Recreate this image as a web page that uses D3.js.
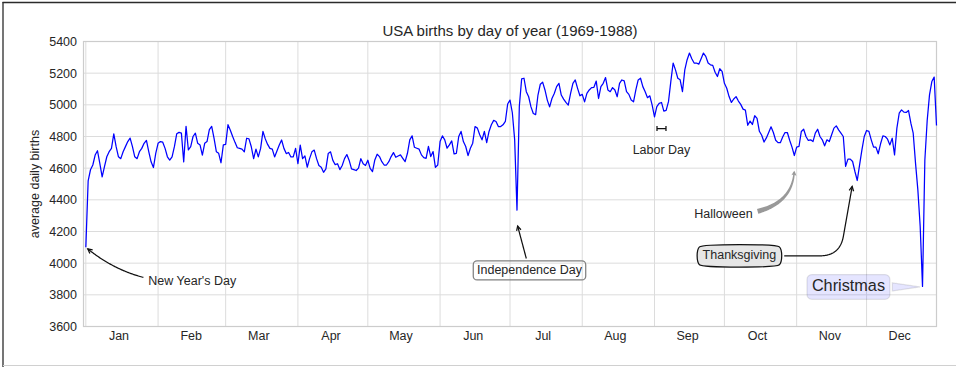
<!DOCTYPE html>
<html>
<head>
<meta charset="utf-8">
<script src="https://cdn.jsdelivr.net/npm/d3@7"></script>
<style>
  body { margin: 0; background: #fff; }
  svg { display: block; }
</style>
</head>
<body>
<svg id="chart" width="956" height="367"></svg>
<script>
// Average USA births for each calendar day (1969-1988), Jan 1 .. Dec 31 (366 days)
const births = [
  // Jan
  4100, 4520, 4590, 4620, 4683, 4710, 4630, 4545, 4610, 4672, 4704, 4725, 4817, 4736, 4672, 4660,
  4704, 4736, 4768, 4790, 4736, 4672, 4660, 4704, 4725, 4757, 4775, 4704, 4640, 4604, 4694,
  // Feb
  4757, 4768, 4764, 4725, 4672, 4651, 4672, 4736, 4817, 4826, 4821, 4640, 4864, 4715, 4736,
  4800, 4821, 4757, 4747, 4683, 4757, 4768, 4843, 4864, 4790, 4704, 4694, 4634, 4747,
  // Mar
  4750, 4875, 4840, 4800, 4763, 4729, 4725, 4720, 4703, 4789, 4785, 4735, 4660, 4720, 4671, 4725,
  4832, 4785, 4750, 4725, 4720, 4671, 4708, 4746, 4778, 4725, 4692, 4699, 4671, 4671, 4725,
  // Apr
  4628, 4746, 4660, 4677, 4606, 4660, 4703, 4714, 4660, 4617, 4606, 4574, 4596, 4692, 4703,
  4649, 4622, 4628, 4591, 4617, 4660, 4686, 4649, 4596, 4591, 4585, 4600, 4660, 4628, 4617,
  // May
  4650, 4599, 4578, 4652, 4688, 4673, 4641, 4620, 4620, 4641, 4673, 4698, 4669, 4677, 4684, 4662,
  4641, 4694, 4779, 4804, 4732, 4726, 4720, 4684, 4667, 4662, 4737, 4673, 4705, 4605, 4620,
  // Jun
  4768, 4804, 4779, 4726, 4747, 4772, 4690, 4694, 4800, 4832, 4768, 4737, 4679, 4726, 4758,
  4863, 4853, 4811, 4779, 4832, 4762, 4832, 4874, 4902, 4895, 4863, 4863, 4874, 4895, 5005,
  // Jul
  5030, 4950, 4780, 4335, 4990, 5164, 5168, 5083, 5051, 4987, 4945, 4938, 5062, 5130, 5143, 5094,
  5030, 4987, 5040, 5072, 5115, 5136, 5062, 5036, 5015, 4998, 5072, 5136, 5157, 5104, 5057,
  // Aug
  5066, 5019, 5072, 5094, 5109, 5111, 5150, 5040, 5115, 5136, 5172, 5094, 5083, 5109, 5094, 5051,
  5136, 5157, 5151, 5083, 5066, 5030, 5019, 5094, 5157, 5168, 5115, 5083, 5045, 5057, 4998,
  // Sep
  4924, 4988, 5009, 5015, 4960, 4965, 5020, 5147, 5264, 5221, 5168, 5158, 5083, 5221, 5285,
  5327, 5291, 5264, 5264, 5257, 5291, 5327, 5306, 5264, 5253, 5249, 5206, 5179, 5228, 5211,
  // Oct
  5136, 5105, 5052, 5015, 5037, 5052, 5024, 5003, 4973, 4967, 4871, 4897, 4876, 4931, 4914, 4833,
  4808, 4765, 4791, 4825, 4861, 4825, 4776, 4761, 4761, 4797, 4825, 4825, 4776, 4733, 4680,
  // Nov
  4733, 4737, 4832, 4846, 4800, 4775, 4779, 4768, 4821, 4846, 4800, 4779, 4741, 4779, 4768,
  4811, 4853, 4867, 4842, 4821, 4800, 4611, 4657, 4657, 4642, 4579, 4522, 4621, 4716, 4800,
  // Dec
  4838, 4832, 4779, 4733, 4733, 4691, 4754, 4804, 4800, 4783, 4747, 4789, 4684, 4853, 4947, 4968,
  4954, 4952, 4964, 4884, 4821, 4632, 4463, 4232, 3853, 4650, 4900, 5063, 5147, 5175, 4870
];

const monthLabels = ["Jan", "Feb", "Mar", "Apr", "May", "Jun", "Jul", "Aug", "Sep", "Oct", "Nov", "Dec"];
const yTicks = [3600, 3800, 4000, 4200, 4400, 4600, 4800, 5000, 5200, 5400];
const yDomain = [3600, 5400];
const titleText = "USA births by day of year (1969-1988)";
const yLabelText = "average daily births";

// Annotated holidays: [month index, day of month] and the value the note points at
const holidayNames  = ["New Year's Day", "Independence Day", "Labor Day", "Halloween", "Thanksgiving", "Christmas"];
const holidayDates  = [[0, 1], [6, 4], [8, 4], [9, 31], [10, 25], [11, 25]];
const holidayValues = [4100, 4250, 4850, 4600, 4500, 3850];
const laborDaySpan  = [[8, 1], [8, 7]];

// ---------------------------------------------------------------------------
const W = 956, H = 367;
const PT = 1.25;                 // pixels per typographic point
const FS = 10 * PT;              // base font size
const FONT = "'Liberation Sans', Arial, Helvetica, sans-serif";
const TEXT = "#262626";
const plot = { left: 83.5, right: 936.5, top: 41.5, bottom: 326.5 };

const utc = (m, d) => new Date(Date.UTC(2012, m, d));
const dates = births.map((_, i) => utc(0, 1 + i));

const x = d3.scaleUtc()
  .domain([new Date(Date.UTC(2011, 11, 31)), new Date(Date.UTC(2012, 11, 31))])
  .range([plot.left, plot.right]);
const y = d3.scaleLinear().domain(yDomain).range([plot.bottom, plot.top]);

const svg = d3.select("#chart").attr("font-family", FONT);
svg.append("rect").attr("width", W).attr("height", H).attr("fill", "#fff");

// window frame
svg.append("line").attr("x1", 2.5).attr("x2", W).attr("y1", 2.5).attr("y2", 2.5)
  .attr("stroke", "#2b2b2b").attr("stroke-width", 1.3);
svg.append("line").attr("x1", 3).attr("x2", 3).attr("y1", 2).attr("y2", H)
  .attr("stroke", "#2b2b2b").attr("stroke-width", 1.3);
svg.append("line").attr("x1", 3).attr("x2", W).attr("y1", 365.5).attr("y2", 365.5)
  .attr("stroke", "#d0d0d0").attr("stroke-width", 1);

// grid
const grid = svg.append("g").attr("stroke", "#dcdcdc").attr("stroke-width", 1);
const monthStarts = d3.utcMonths(utc(0, 1), utc(12, 1));
grid.selectAll(".vg").data(monthStarts).join("line")
  .attr("x1", d => x(d)).attr("x2", d => x(d))
  .attr("y1", plot.top).attr("y2", plot.bottom);
grid.selectAll(".hg").data(yTicks).join("line")
  .attr("x1", plot.left).attr("x2", plot.right)
  .attr("y1", d => y(d)).attr("y2", d => y(d));

// frame of the axes
svg.append("rect")
  .attr("x", plot.left).attr("y", plot.top)
  .attr("width", plot.right - plot.left).attr("height", plot.bottom - plot.top)
  .attr("fill", "none").attr("stroke", "#cccccc").attr("stroke-width", 1.2);

// axes
const yAxis = d3.axisLeft(y).tickValues(yTicks).tickSize(0).tickPadding(6.5).tickFormat(d3.format("d"));
svg.append("g").attr("transform", `translate(${plot.left},0)`).call(yAxis)
  .call(g => g.select(".domain").remove())
  .attr("font-family", FONT).attr("font-size", FS)
  .selectAll("text").attr("fill", TEXT);

const monthMids = monthLabels.map((_, i) => utc(i, 15));
const xAxis = d3.axisBottom(x).tickValues(monthMids).tickSize(0).tickPadding(5)
  .tickFormat((d, i) => monthLabels[i]);
svg.append("g").attr("transform", `translate(0,${plot.bottom})`).call(xAxis)
  .call(g => g.select(".domain").remove())
  .attr("font-family", FONT).attr("font-size", FS)
  .selectAll("text").attr("fill", TEXT);

// title and axis label
svg.append("text").attr("x", (plot.left + plot.right) / 2).attr("y", 35.5)
  .attr("text-anchor", "middle").attr("font-size", 12 * PT).attr("fill", TEXT).text(titleText);
svg.append("text").attr("transform", `translate(38.5,${(plot.top + plot.bottom) / 2}) rotate(-90)`)
  .attr("text-anchor", "middle").attr("font-size", FS).attr("fill", TEXT).text(yLabelText);

// the series
svg.append("path").datum(births)
  .attr("fill", "none").attr("stroke", "#0000ff").attr("stroke-width", 1.25)
  .attr("stroke-linejoin", "round")
  .attr("d", d3.line().x((d, i) => x(dates[i])).y(d => y(d)));

// ---------------------------------------------------------------------------
// annotation helpers
const ann = svg.append("g");
const pointOf = i => [x(utc(...holidayDates[i])), y(holidayValues[i])];

function addText(str, px, py, fs, anchor) {
  const t = ann.append("text").attr("x", px).attr("y", py).attr("font-size", fs)
    .attr("text-anchor", anchor).attr("fill", TEXT).text(str);
  const w = t.node().getComputedTextLength();
  const x0 = anchor === "middle" ? px - w / 2 : anchor === "end" ? px - w : px;
  return { node: t, x0, x1: x0 + w, y0: py - 0.716 * fs, y1: py + 0.21 * fs };
}
const expand = (b, p) => ({ x0: b.x0 - p, x1: b.x1 + p, y0: b.y0 - p, y1: b.y1 + p });
const centerOf = b => [(b.x0 + b.x1) / 2, (b.y0 + b.y1) / 2];
const inside = (p, r) => p[0] >= r.x0 && p[0] <= r.x1 && p[1] >= r.y0 && p[1] <= r.y1;

function quad(p0, c, p1, n = 120) {
  const out = [];
  for (let k = 0; k <= n; k++) {
    const t = k / n, a = (1 - t) * (1 - t), b = 2 * t * (1 - t), e = t * t;
    out.push([a * p0[0] + b * c[0] + e * p1[0], a * p0[1] + b * c[1] + e * p1[1]]);
  }
  return out;
}
function line(p0, p1, n = 60) {
  const out = [];
  for (let k = 0; k <= n; k++) {
    const t = k / n;
    out.push([p0[0] + (p1[0] - p0[0]) * t, p0[1] + (p1[1] - p0[1]) * t]);
  }
  return out;
}
function clipStart(pts, r) {
  let i = 0;
  while (i < pts.length && inside(pts[i], r)) i++;
  if (i === 0 || i >= pts.length) return pts;
  let a = pts[i - 1], b = pts[i];
  for (let k = 0; k < 30; k++) {
    const m = [(a[0] + b[0]) / 2, (a[1] + b[1]) / 2];
    if (inside(m, r)) a = m; else b = m;
  }
  return [b, ...pts.slice(i)];
}
function trimStart(pts, d) {
  let acc = 0;
  for (let i = 1; i < pts.length; i++) {
    const seg = Math.hypot(pts[i][0] - pts[i - 1][0], pts[i][1] - pts[i - 1][1]);
    if (acc + seg >= d) {
      const t = (d - acc) / seg;
      const p = [pts[i - 1][0] + (pts[i][0] - pts[i - 1][0]) * t, pts[i - 1][1] + (pts[i][1] - pts[i - 1][1]) * t];
      return [p, ...pts.slice(i)];
    }
    acc += seg;
  }
  return pts;
}
const trimEnd = (pts, d) => trimStart(pts.slice().reverse(), d).reverse();
const pathD = pts => "M" + pts.map(p => p[0].toFixed(2) + "," + p[1].toFixed(2)).join("L");

// open "->" head at the end of a polyline
function openHead(pts, ms, color) {
  const n = pts.length, tip = pts[n - 1];
  let j = n - 2;
  while (j > 0 && Math.hypot(tip[0] - pts[j][0], tip[1] - pts[j][1]) < 2) j--;
  const dx = pts[j][0] - tip[0], dy = pts[j][1] - tip[1], L = Math.hypot(dx, dy);
  const ux = dx / L, uy = dy / L, len = 0.4 * ms, th = Math.atan2(0.2, 0.4);
  const rot = a => [tip[0] + len * (ux * Math.cos(a) - uy * Math.sin(a)), tip[1] + len * (ux * Math.sin(a) + uy * Math.cos(a))];
  const w1 = rot(th), w2 = rot(-th);
  ann.append("path").attr("d", `M${w1[0]},${w1[1]}L${tip[0]},${tip[1]}L${w2[0]},${w2[1]}`)
    .attr("fill", "none").attr("stroke", color).attr("stroke-width", 1.25)
    .attr("stroke-linejoin", "miter");
}
function drawArrow(pts, color = "#111") {
  ann.append("path").attr("d", pathD(pts)).attr("fill", "none")
    .attr("stroke", color).attr("stroke-width", 1.25);
  openHead(pts, FS, color);
}
// arc length table for a polyline
function lengths(pts) {
  const s = [0];
  for (let i = 1; i < pts.length; i++) s.push(s[i - 1] + Math.hypot(pts[i][0] - pts[i - 1][0], pts[i][1] - pts[i - 1][1]));
  return s;
}
function pointAt(pts, s, cum) {
  let i = 1;
  while (i < pts.length - 1 && cum[i] < s) i++;
  const seg = cum[i] - cum[i - 1] || 1, t = Math.max(0, Math.min(1, (s - cum[i - 1]) / seg));
  const dx = pts[i][0] - pts[i - 1][0], dy = pts[i][1] - pts[i - 1][1], L = Math.hypot(dx, dy) || 1;
  return { p: [pts[i - 1][0] + dx * t, pts[i - 1][1] + dy * t], n: [-dy / L, dx / L] };
}
const bez = (t, a, m, b) => (1 - t) * (1 - t) * a + 2 * t * (1 - t) * m + t * t * b;
// filled shape whose half width follows hw(s) along the polyline
function ribbon(pts, samples) {
  const cum = lengths(pts);
  const right = [], left = [];
  samples.forEach(([s, hw]) => {
    const { p, n } = pointAt(pts, s, cum);
    right.push([p[0] + n[0] * hw, p[1] + n[1] * hw]);
    left.push([p[0] - n[0] * hw, p[1] - n[1] * hw]);
  });
  return pathD(right.concat(left.reverse())) + "Z";
}

// ---------------------------------------------------------------------------
// New Year's Day: curved arrow (arc3, rad=-0.2)
{
  const P = pointOf(0);
  const b = addText(holidayNames[0], P[0] + 50 * PT, P[1] + 30 * PT, FS, "start");
  const A = centerOf(b), f = -0.2;
  const c = [(A[0] + P[0]) / 2 + f * (A[1] - P[1]), (A[1] + P[1]) / 2 + f * (P[0] - A[0])];
  let pts = clipStart(quad(A, c, P), expand(b, 2 * PT));
  pts = trimEnd(trimStart(pts, 2 * PT), 2 * PT);
  drawArrow(pts);
}

// Independence Day: rounded grey box, straight arrow
{
  const P = pointOf(1);
  const b = addText(holidayNames[1], P[0] + 10 * PT, P[1] + 40 * PT, FS, "middle");
  const pad = 0.3 * FS, bx = expand(b, pad);
  ann.insert("rect", "text").attr("x", bx.x0).attr("y", bx.y0)
    .attr("width", bx.x1 - bx.x0).attr("height", bx.y1 - bx.y0).attr("rx", pad)
    .attr("fill", "none").attr("stroke", "#808080").attr("stroke-width", 1.25);
  let pts = clipStart(line(centerOf(b), P), bx);
  pts = trimEnd(trimStart(pts, 2 * PT), 2 * PT);
  drawArrow(pts);
}

// Labor Day: text under a |-| bracket spanning the week
{
  const P = pointOf(2);
  addText(holidayNames[2], P[0], P[1] + 20 * PT, FS, "middle");
  const xa = x(utc(...laborDaySpan[0])) + 2 * PT, xb = x(utc(...laborDaySpan[1])) - 2 * PT;
  const yy = y(holidayValues[2]), hw = 0.2 * FS;
  ann.append("path")
    .attr("d", `M${xa},${yy - hw}L${xa},${yy + hw}M${xa},${yy}L${xb},${yy}M${xb},${yy - hw}L${xb},${yy + hw}`)
    .attr("fill", "none").attr("stroke", "#111").attr("stroke-width", 1.25);
}

// Halloween: "fancy" grey arrow (angle3, angleA=0, angleB=-90)
{
  const P = pointOf(3);
  const b = addText(holidayNames[3], P[0] - 80 * PT, P[1] + 40 * PT, FS, "start");
  const A = centerOf(b);
  let pts = clipStart(quad(A, [P[0], A[1]], P, 240), expand(b, 2 * PT));
  pts = trimEnd(trimStart(pts, 2 * PT), 2 * PT);
  const L = lengths(pts).slice(-1)[0];
  const ms = FS, hl = 0.4 * ms, hwd = 0.4 * ms, tw = 0.4 * ms;
  const samples = [];
  const tailEnd = L - 0.8 * hl, headStart = L - hl;
  for (let k = 0; k <= 60; k++) {
    const t = k / 60;
    samples.push([t * tailEnd, (tw / 2) * bez(t, 1, 0.6, 0.3)]);
  }
  for (let k = 0; k <= 20; k++) {
    const t = k / 20;
    samples.push([headStart + t * hl, (hwd / 2) * bez(t, 1, 0.6, 0)]);
  }
  ann.append("path").attr("d", ribbon(pts, samples)).attr("fill", "#999999").attr("stroke", "none");
}

// Thanksgiving: round4 box, angled arrow (angleA=0, angleB=80, rad=20)
{
  const P = pointOf(4);
  const b = addText(holidayNames[4], P[0] - 120 * PT, P[1] + 60 * PT, FS, "start");
  const pad = 0.5 * FS, dr = pad / 2;
  const x0 = b.x0 - pad + dr, y0 = b.y0 - pad + dr, x1 = b.x1 + pad - dr, y1 = b.y1 + pad - dr;
  const boxD = `M${x0},${y0}C${x0 + dr},${y0 - dr} ${x1 - dr},${y0 - dr} ${x1},${y0}` +
    `C${x1 + dr},${y0 + dr} ${x1 + dr},${y1 - dr} ${x1},${y1}` +
    `C${x1 - dr},${y1 + dr} ${x0 + dr},${y1 + dr} ${x0},${y1}` +
    `C${x0 - dr},${y1 - dr} ${x0 - dr},${y0 + dr} ${x0},${y0}Z`;
  ann.insert("path", "text").attr("d", boxD).attr("fill", "#e6e6e6")
    .attr("stroke", "#111").attr("stroke-width", 1.25);
  const A = centerOf(b);
  const aB = 80 * Math.PI / 180;
  const t = (A[1] - P[1]) / (-Math.sin(aB));
  const C = [P[0] + t * Math.cos(aB), A[1]];
  const rad = 20;
  const d1 = Math.hypot(A[0] - C[0], A[1] - C[1]), d2 = Math.hypot(P[0] - C[0], P[1] - C[1]);
  const P1 = [C[0] + (A[0] - C[0]) * rad / d1, C[1] + (A[1] - C[1]) * rad / d1];
  const P2 = [C[0] + (P[0] - C[0]) * rad / d2, C[1] + (P[1] - C[1]) * rad / d2];
  let pts = line(A, P1, 80).concat(quad(P1, C, P2, 60).slice(1), line(P2, P, 80).slice(1));
  const r = { x0: x0 - 0.75 * dr, x1: x1 + 0.75 * dr, y0: y0 - 0.75 * dr, y1: y1 + 0.75 * dr };
  pts = clipStart(pts, r);
  pts = trimEnd(trimStart(pts, 2 * PT), 2 * PT);
  drawArrow(pts);
}

// Christmas: larger label in a translucent box with a wedge pointer
{
  const P = pointOf(5);
  const fs = 13 * PT;
  const t = ann.append("text").attr("x", P[0] - 30 * PT).attr("y", P[1] + 0.253 * fs)
    .attr("font-size", fs).attr("text-anchor", "end").attr("fill", TEXT).text(holidayNames[5]);
  const w = t.node().getComputedTextLength();
  const base = P[1] + 0.253 * fs;
  const b = { x0: P[0] - 30 * PT - w, x1: P[0] - 30 * PT, y0: base - 0.716 * fs, y1: base + 0.21 * fs };
  const pad = 0.3 * fs, bx = expand(b, pad);
  ann.insert("rect", "text").attr("x", bx.x0).attr("y", bx.y0)
    .attr("width", bx.x1 - bx.x0).attr("height", bx.y1 - bx.y0).attr("rx", pad)
    .attr("fill", "rgba(0,0,255,0.1)").attr("stroke", "rgba(0,0,0,0.1)").attr("stroke-width", 1.25);
  let pts = clipStart(line(centerOf(b), P, 200), bx);
  pts = trimEnd(trimStart(pts, 2 * PT), 2 * PT);
  const L = lengths(pts).slice(-1)[0];
  const hw = 0.5 * fs / 2, samples = [];
  for (let k = 0; k <= 40; k++) {
    const u = k / 40;
    samples.push([u * L, hw * bez(u, 1, 0.5, 0)]);
  }
  ann.append("path").attr("d", ribbon(pts, samples))
    .attr("fill", "rgba(0,0,255,0.1)").attr("stroke", "rgba(0,0,0,0.1)").attr("stroke-width", 1.25);
}
</script>
</body>
</html>
